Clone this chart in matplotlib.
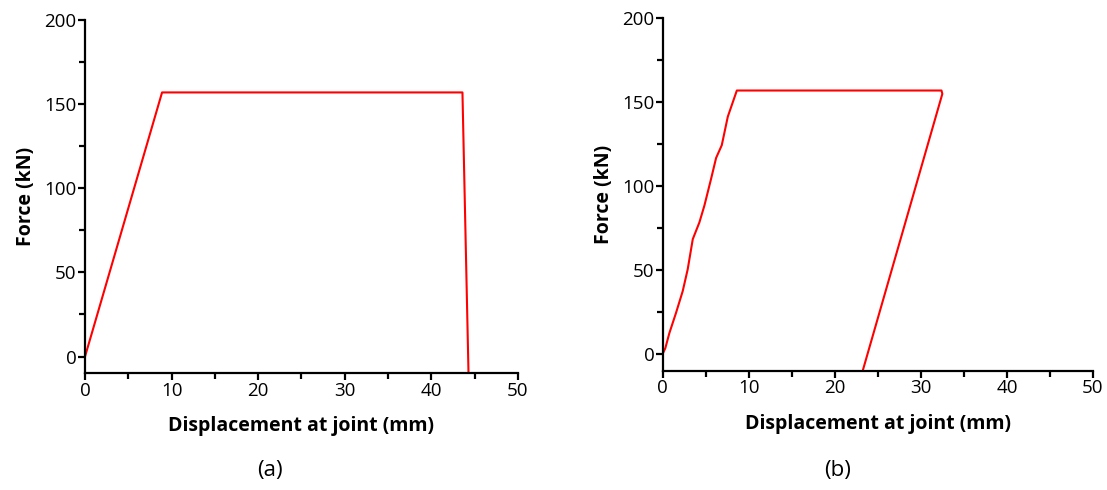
import matplotlib
matplotlib.use("Agg")
import matplotlib.pyplot as plt
from matplotlib.ticker import MultipleLocator

plt.rcParams['font.family'] = ['Open Sans', 'DejaVu Sans']

# (a) displacement / force
disp_a = [0.0, 8.9, 43.6, 44.3]
force_a = [0.0, 157.0, 157.0, -10.0]

# (b) displacement / force
disp_b = [0.0, 0.31, 0.78, 1.55, 2.33, 2.91, 3.5, 4.27, 4.85, 5.63, 6.21,
          6.87, 7.57, 8.62, 32.4, 32.5, 23.25]
force_b = [0.0, 3.4, 12.4, 24.4, 37.4, 50.4, 68.4, 78.4, 88.4, 104.4, 116.8,
           124.4, 141.4, 157.0, 157.0, 155.0, -10.0]

panel_labels = ['(a)', '(b)']


def style_axes(ax):
    ax.set_xlim(0, 50)
    ax.set_ylim(-10, 200)
    ax.spines['top'].set_visible(False)
    ax.spines['right'].set_visible(False)
    ax.spines['left'].set_linewidth(1.6)
    ax.spines['bottom'].set_linewidth(1.6)
    ax.xaxis.set_major_locator(MultipleLocator(10))
    ax.xaxis.set_minor_locator(MultipleLocator(5))
    ax.yaxis.set_major_locator(MultipleLocator(50))
    ax.yaxis.set_minor_locator(MultipleLocator(25))
    ax.set_yticks([0, 50, 100, 150, 200])
    ax.tick_params(which='major', length=5, width=1.6, labelsize=13.5, pad=1)
    ax.tick_params(which='minor', length=4, width=1.6)
    ax.set_xlabel('Displacement at joint (mm)', fontsize=14, fontweight='bold', labelpad=12)
    ax.set_ylabel('Force (kN)', fontsize=14, fontweight='bold', labelpad=6)


fig = plt.figure(figsize=(11.07, 4.9), dpi=100)
ax1 = fig.add_axes([0.0768, 0.238, 0.391, 0.721])
ax2 = fig.add_axes([0.5986, 0.2435, 0.3887, 0.719])

ax1.plot(disp_a, force_a, color='#ff0000', lw=1.5)
ax2.plot(disp_b, force_b, color='#ff0000', lw=1.5)

for ax in [ax1, ax2]:
    style_axes(ax)

fig.text(270 / 1107, 1 - 470 / 490, panel_labels[0], ha='center', va='center', fontsize=16)
fig.text(838 / 1107, 1 - 470 / 490, panel_labels[1], ha='center', va='center', fontsize=16)

fig.savefig('out.png', dpi=100)
